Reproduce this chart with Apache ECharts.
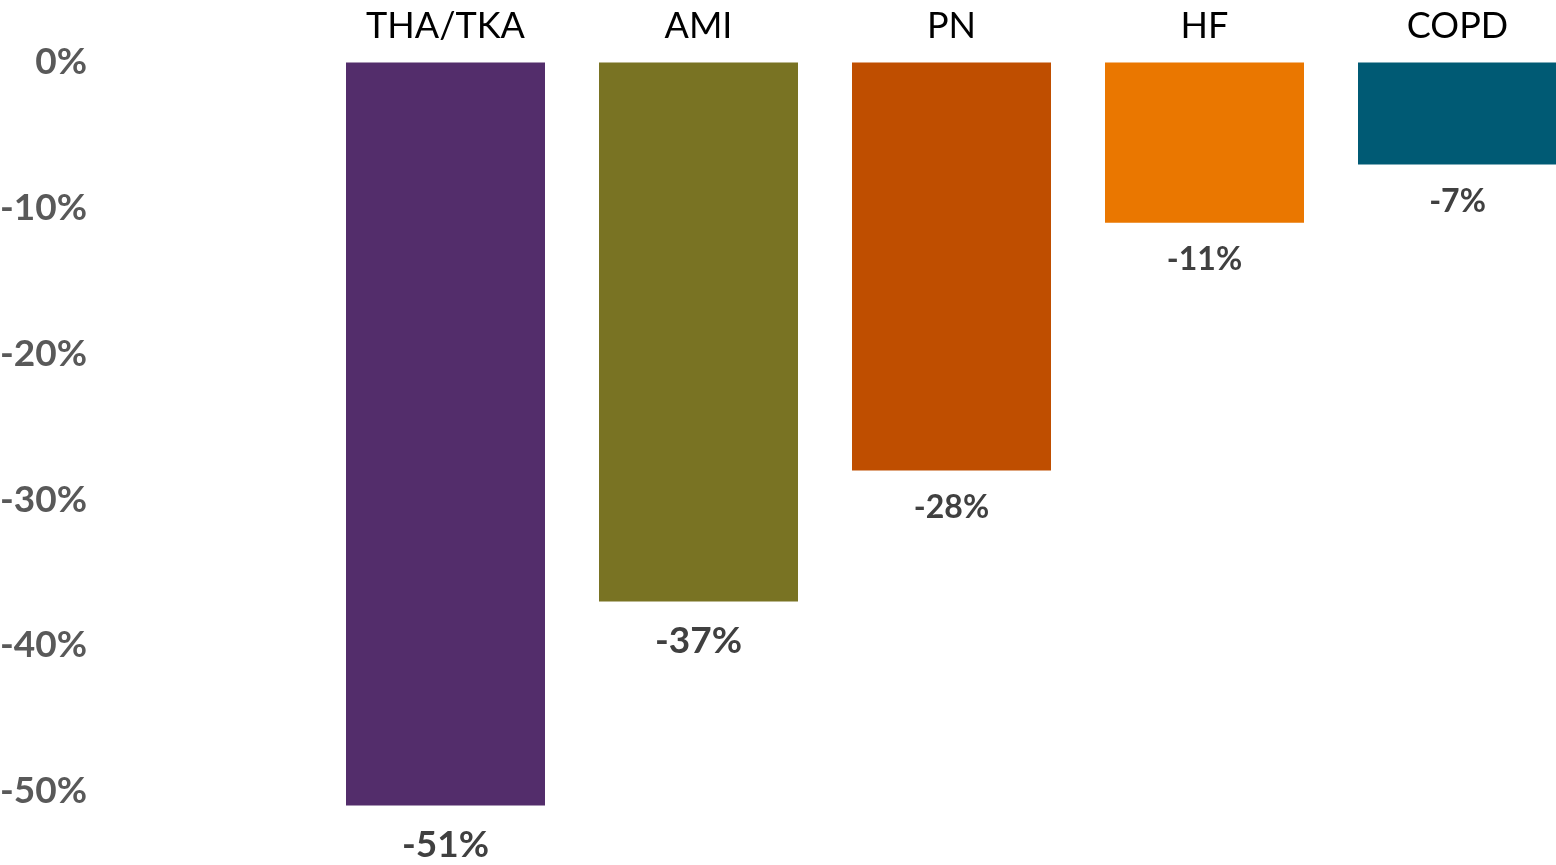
<!DOCTYPE html>
<html>
<head>
<meta charset="utf-8">
<script src="https://cdn.jsdelivr.net/npm/echarts@6/dist/echarts.min.js"></script>
<style>
  html, body { margin: 0; padding: 0; background: #ffffff; }
  #chart { width: 1556px; height: 865px; }
</style>
</head>
<body>
<div id="chart"></div>
<script>
// Change in rate by condition (percent)
const categories = ['THA/TKA', 'AMI', 'PN', 'HF', 'COPD'];
const changes = [-51, -37, -28, -11, -7];
const yTicks = [0, -10, -20, -30, -40, -50];

// Styling
const barColors = ['#532D6B', '#797323', '#BF4E00', '#EA7700', '#005A74'];
const labelFontSizes = [37, 37, 32, 32, 32];
const FONT = 'Lato';

const chart = echarts.init(document.getElementById('chart'), null, { renderer: 'canvas' });

chart.setOption({
  animation: false,
  backgroundColor: '#ffffff',
  // plot area runs past the right edge of the canvas
  grid: {
    left: 319, top: 62.5, width: 1265, height: 801.4,
    containLabel: false,
    outerBoundsMode: 'none'
  },
  xAxis: {
    type: 'category',
    position: 'top',
    data: categories,
    axisLine: { show: false },
    axisTick: { show: false },
    axisLabel: {
      color: '#000000',
      fontFamily: FONT,
      fontSize: 36,
      lineHeight: 40,
      margin: 16,
      interval: 0
    }
  },
  yAxis: {
    type: 'value',
    min: -55,
    max: 0,
    interval: 5,
    splitLine: { show: false },
    axisLine: { show: false },
    axisTick: { show: false },
    axisLabel: {
      color: '#595959',
      fontFamily: FONT,
      fontWeight: 'bold',
      fontSize: 37,
      margin: 232,
      align: 'right',
      formatter: function (v) {
        return yTicks.indexOf(v) >= 0 ? v + '%' : '';
      }
    }
  },
  series: [{
    type: 'bar',
    barWidth: 199,
    data: changes.map(function (v, i) {
      return {
        value: v,
        itemStyle: { color: barColors[i] },
        label: { fontSize: labelFontSizes[i] }
      };
    }),
    label: {
      show: true,
      position: 'bottom',
      distance: 21,
      color: '#404040',
      fontFamily: FONT,
      fontWeight: 'bold',
      formatter: function (p) { return p.value + '%'; }
    }
  }]
});
</script>
</body>
</html>
